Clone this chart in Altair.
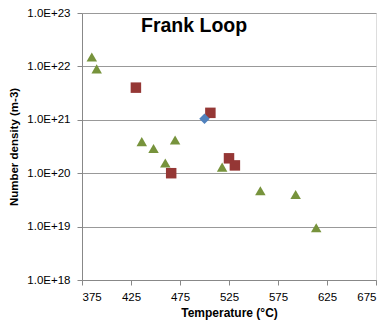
import altair as alt
import pandas as pd

tri_T = [385, 390, 436, 448, 460, 470, 518, 557, 593, 614]
tri_N = [1.5e22, 9.0e21, 3.9e20, 2.9e20, 1.55e20, 4.2e20, 1.3e20, 4.7e19, 4.0e19, 9.5e18]
sq_T = [430, 466, 506, 525, 531]
sq_N = [4.0e21, 1.0e20, 1.35e21, 1.9e20, 1.4e20]
dia_T = [500]
dia_N = [1.05e21]

y_ticks = [1e18, 1e19, 1e20, 1e21, 1e22, 1e23]
x_ticks = [375, 425, 475, 525, 575, 625, 675]

rows = []
for t, n in zip(tri_T, tri_N):
    rows.append({"T": t, "N": n, "s": "tri"})
for t, n in zip(sq_T, sq_N):
    rows.append({"T": t, "N": n, "s": "sq"})
for t, n in zip(dia_T, dia_N):
    rows.append({"T": t, "N": n, "s": "dia"})
df = pd.DataFrame(rows)

font = "Liberation Sans"

points = alt.Chart(df).mark_point(filled=True, opacity=1, size=110).encode(
    x=alt.X("T:Q", scale=alt.Scale(domain=[375, 675], nice=False),
            axis=alt.Axis(values=x_ticks, title="Temperature (\u00b0C)", grid=False,
                          domainColor="#888888", tickColor="#888888", tickSize=5,
                          labelFontSize=11.5, labelFont=font, labelColor="#000000",
                          labelPadding=6,
                          titleFont=font, titleFontSize=12, titleFontWeight="bold",
                          titleColor="#000000", titlePadding=5)),
    y=alt.Y("N:Q", scale=alt.Scale(type="log", domain=[1e18, 1e23], nice=False),
            axis=alt.Axis(values=y_ticks, title="Number density (m-3)",
                          labelExpr="replace(format(datum.value, '.1e'), 'e', 'E')",
                          grid=True, gridColor="#999999", gridWidth=1.2,
                          domainColor="#888888", tickColor="#888888", tickSize=5,
                          labelFontSize=11.5, labelFont=font, labelColor="#000000",
                          labelPadding=7,
                          titleFont=font, titleFontSize=11.5, titleFontWeight="bold",
                          titleColor="#000000", titlePadding=7)),
    shape=alt.Shape("s:N", scale=alt.Scale(domain=["tri", "sq", "dia"],
                                           range=["triangle-up", "square", "diamond"]),
                    legend=None),
    color=alt.Color("s:N", scale=alt.Scale(domain=["tri", "sq", "dia"],
                                           range=["#77933C", "#953735", "#4F81BD"]),
                    legend=None),
)

title = alt.Chart(pd.DataFrame({"t": ["Frank Loop"]})).mark_text(
    font=font, fontSize=19.5, fontWeight="bold", color="#000000", align="left", baseline="middle"
).encode(text="t:N", x=alt.value(59), y=alt.value(13))

chart = alt.layer(points, title).properties(
    width=294, height=267, autosize="none",
    padding={"left": 74, "top": 5, "right": 2, "bottom": 45}
).configure_view(stroke=None).configure(background="white")

chart.save("out.html", embed_options={"renderer": "svg", "actions": False})
